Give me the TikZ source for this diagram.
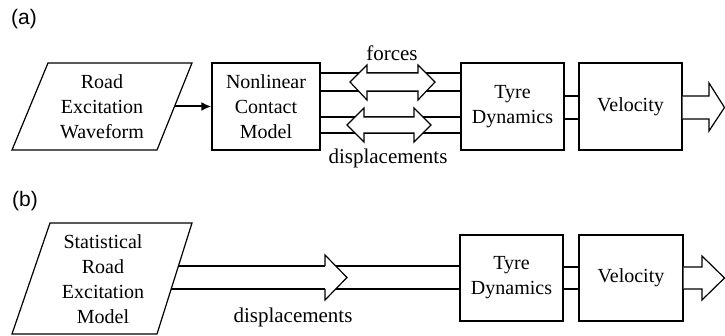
\documentclass[tikz,border=0pt]{standalone}
\usepackage{fontspec}
\setmainfont{Liberation Serif}
\setsansfont{Liberation Sans}
\usetikzlibrary{arrows.meta}

\tikzset{
  block/.style={draw, minimum width=51.5pt, minimum height=43.5pt, inner sep=0pt,
    align=center, font=\rmfamily\fontsize{10}{12.5}\selectfont},
  txt/.style={align=center, font=\rmfamily\fontsize{10}{12.5}\selectfont},
  lbl/.style={font=\rmfamily\fontsize{10.5}{12.5}\selectfont},
  tag/.style={font=\sffamily\fontsize{10.5}{12}\selectfont},
  hollow/.style={draw, fill=white, line join=miter},
}

\begin{document}
\begin{tikzpicture}[x=0.5pt, y=-0.5pt, line width=0.6pt]
    \useasboundingbox (0,0) rectangle (725,336);

    % (a) contact model chain
    \draw (24,19) node[tag](taga){(a)};
    \draw (12,150) -- (48,63) -- (192,63) -- (157,150) -- cycle;
    \draw (102,106.5) node[txt](road){Road\\Excitation\\Waveform};
    \coordinate (roadout) at (174.5,106.5);
    \draw (266,106.5) node[block, minimum width=54pt](nonlin){Nonlinear\\Contact\\Model};
    \draw (512.5,106.5) node[block](tyrea){Tyre\\Dynamics};
    \draw (630.5,106.5) node[block](vela){Velocity};

    \draw[-{Latex[length=5pt,width=4.5pt]}, line width=1pt] (roadout) -- (nonlin);

    \foreach \yy in {73,91,117,133}
        \draw (nonlin.east |- 0,\yy) -- (tyrea.west |- 0,\yy);
    \foreach \yy in {96,119}
        \draw (tyrea.east |- 0,\yy) -- (vela.west |- 0,\yy);

    % forces and displacements
    \draw[hollow] (350,82) -- (367,65) -- (367,73) -- (418,73) -- (418,65) -- (435,82)
        -- (418,100) -- (418,91) -- (367,91) -- (367,100) -- cycle;
    \draw[hollow] (347,125) -- (364,108) -- (364,117) -- (414,117) -- (414,108) -- (431,125)
        -- (414,142) -- (414,133) -- (364,133) -- (364,142) -- cycle;
    \draw (392,53) node[lbl](forces){forces};
    \draw (388,158) node[lbl](dispa){displacements};

    % output of velocity
    \draw[hollow] (vela.east |- 0,96) -- (709,96) -- (709,83) -- (724.5,107.5)
        -- (709,131) -- (709,119) -- (vela.east |- 0,119);

    % (b) statistical road model
    \draw (25,201) node[tag](tagb){(b)};
    \draw (12,334) -- (50,223) -- (192,223) -- (157,334) -- cycle;
    \draw (103,279.5) node[txt](stat){Statistical\\Road\\Excitation\\Model};
    \coordinate (statout1) at (178.4,266);
    \coordinate (statout2) at (171.2,289);
    \draw (511.5,278) node[block, minimum height=43pt](tyreb){Tyre\\Dynamics};
    \draw (631,278) node[block, minimum width=52pt, minimum height=43pt](velb){Velocity};

    \draw (statout1) -- (tyreb.west |- 0,266);
    \draw (statout2) -- (tyreb.west |- 0,289);
    \draw[hollow] (325,266) -- (325,255) -- (347,277.5) -- (325,300) -- (325,289);
    \draw (293,317) node[lbl](dispb){displacements};

    \foreach \yy in {267,289}
        \draw (tyreb.east |- 0,\yy) -- (velb.west |- 0,\yy);
    \draw[hollow] (velb.east |- 0,267) -- (702,267) -- (702,256) -- (724.5,278)
        -- (702,300) -- (702,289) -- (velb.east |- 0,289);
\end{tikzpicture}
\end{document}
